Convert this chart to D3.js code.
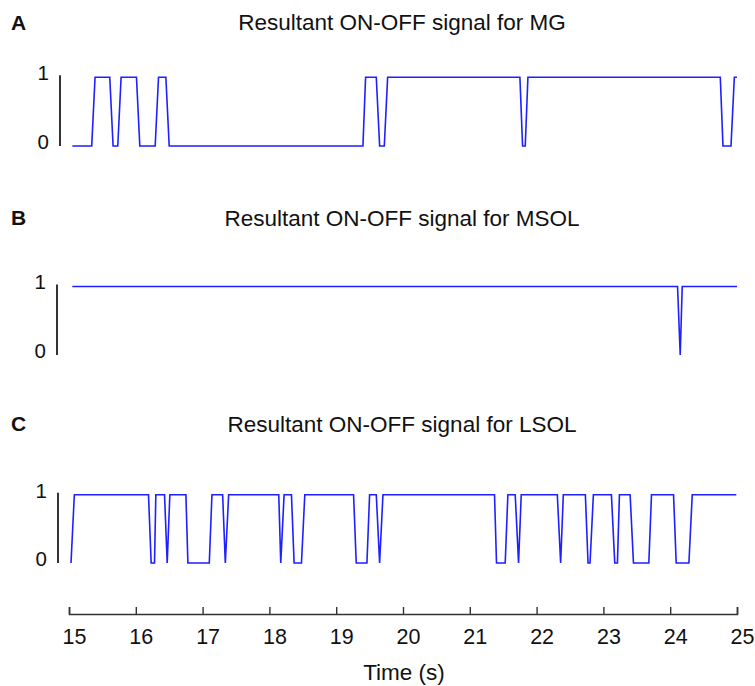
<!DOCTYPE html>
<html>
<head>
<meta charset="utf-8">
<script src="https://cdn.jsdelivr.net/npm/d3@7"></script>
<style>
  html, body { margin: 0; padding: 0; background: #fff; }
  svg { display: block; font-family: "Liberation Sans", Arial, Helvetica, sans-serif; }
</style>
</head>
<body>
<svg id="chart" width="755" height="686"></svg>
<script>
// ---- Data ----
const panelLetters = ["A", "B", "C"];
const panelTitles = [
  "Resultant ON-OFF signal for MG",
  "Resultant ON-OFF signal for MSOL",
  "Resultant ON-OFF signal for LSOL"
];
const yTickValues = [0, 1];
const xTickValues = [15, 16, 17, 18, 19, 20, 21, 22, 23, 24, 25];
const xAxisTitle = "Time (s)";

// Signal MG (time in s, state 0/1) – breakpoints of the polyline
const mgTimes  = [15.05,15.34,15.39,15.61,15.66,15.73,15.78,16.01,16.06,16.29,16.34,16.45,16.50,19.40,19.44,19.60,19.65,19.72,19.77,21.75,21.79,21.83,21.87,24.75,24.79,24.91,24.96,25.00];
const mgValues = [0,0,1,1,0,0,1,1,0,0,1,1,0,0,1,1,0,0,1,1,0,0,1,1,0,0,1,1];

// Signal MSOL
const msolTimes  = [15.05,24.11,24.15,24.18,25.00];
const msolValues = [1,1,0,1,1];

// Signal LSOL
const lsolTimes  = [15.03,15.08,16.19,16.23,16.28,16.30,16.43,16.47,16.51,16.75,16.78,17.10,17.14,17.30,17.34,17.39,18.14,18.17,18.22,18.33,18.37,18.48,18.53,19.26,19.30,19.46,19.50,19.60,19.65,19.70,21.37,21.40,21.53,21.57,21.68,21.73,21.77,22.31,22.36,22.40,22.73,22.77,22.80,22.85,23.12,23.17,23.21,23.24,23.40,23.45,23.68,23.72,24.05,24.09,24.28,24.33,24.99];
const lsolValues = [0,1,1,0,0,1,1,0,1,1,0,0,1,1,0,1,1,0,1,1,0,0,1,1,0,0,1,1,0,1,1,0,0,1,1,0,1,1,0,1,1,0,0,1,1,0,0,1,1,0,0,1,1,0,0,1,1];

const signals = [
  {times: mgTimes, values: mgValues},
  {times: msolTimes, values: msolValues},
  {times: lsolTimes, values: lsolValues}
];

// ---- Layout ----
const svg = d3.select("#chart");
const x = d3.scaleLinear().domain([15, 25]).range([69, 737]);
const panels = [
  {y0: 146, y1: 77.3, axisX: 60, letterY: 30, titleY: 30},
  {y0: 355, y1: 286.5, axisX: 57, letterY: 225, titleY: 226},
  {y0: 563, y1: 494.7, axisX: 58, letterY: 431, titleY: 432}
];

panels.forEach((p, i) => {
  const y = d3.scaleLinear().domain([0, 1]).range([p.y0, p.y1]);
  const g = svg.append("g");

  g.append("text")
    .attr("x", 11).attr("y", p.letterY)
    .attr("font-size", 21).attr("font-weight", "bold")
    .attr("fill", "#111")
    .text(panelLetters[i]);

  g.append("text")
    .attr("x", 402).attr("y", p.titleY)
    .attr("text-anchor", "middle")
    .attr("font-size", 22.5)
    .attr("fill", "#111")
    .text(panelTitles[i]);

  const yAxis = d3.axisLeft(y).tickValues(yTickValues).tickFormat(d3.format("d"))
    .tickSize(0).tickSizeOuter(0).tickPadding(11);
  const ya = g.append("g").attr("transform", `translate(${p.axisX},0)`).call(yAxis);
  ya.select(".domain").attr("stroke", "#000").attr("stroke-width", 1.6)
    .attr("d", `M0,${y(1.03)}V${y(0)}`);
  ya.selectAll(".tick text")
    .attr("font-size", 20.5)
    .attr("font-family", "'Liberation Sans', Arial, sans-serif")
    .attr("fill", "#111")
    .attr("dy", "0.12em");

  const sig = signals[i];
  const pts = sig.times.map((t, k) => [t, sig.values[k]]);
  const line = d3.line().x(d => x(d[0])).y(d => y(d[1]));
  g.append("path")
    .datum(pts)
    .attr("fill", "none")
    .attr("stroke", "#1f1fff")
    .attr("stroke-width", 1.6)
    .attr("stroke-linejoin", "miter")
    .attr("d", line);
});

// ---- X axis ----
const xAxisY = 614;
const xAxis = d3.axisTop(x).tickValues(xTickValues).tickFormat(d3.format("d"))
  .tickSize(7).tickSizeOuter(7);
const xa = svg.append("g").attr("transform", `translate(0,${xAxisY})`).call(xAxis);
xa.select(".domain").attr("stroke", "#333").attr("stroke-width", 1.6);
xa.selectAll(".tick line").attr("stroke", "#333").attr("stroke-width", 1.4);
xa.selectAll(".tick text")
  .attr("font-size", 21.5)
  .attr("font-family", "'Liberation Sans', Arial, sans-serif")
  .attr("fill", "#111")
  .attr("y", 30)
  .attr("dx", 5)
  .attr("dy", 0);

svg.append("text")
  .attr("x", 404).attr("y", 680)
  .attr("text-anchor", "middle")
  .attr("font-size", 22.5)
  .attr("fill", "#111")
  .text(xAxisTitle);
</script>
</body>
</html>
